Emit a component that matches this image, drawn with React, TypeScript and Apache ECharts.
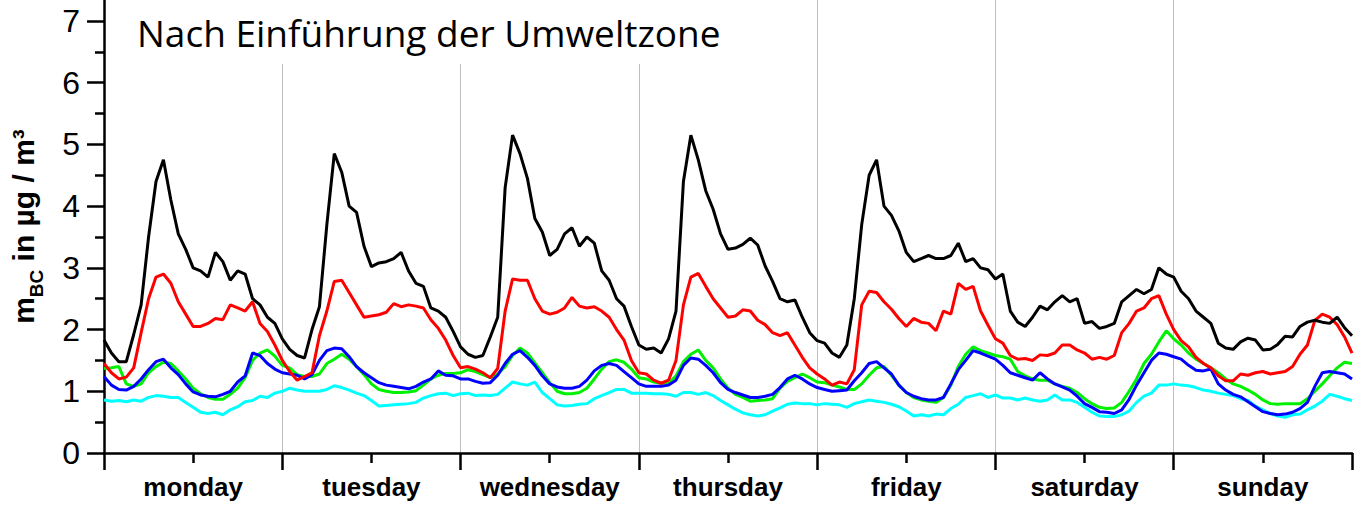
import React, { useEffect, useRef } from "react";
import * as echarts from "echarts";

const dayNames = ["monday", "tuesday", "wednesday", "thursday", "friday", "saturday", "sunday"];
const yTickValues = [0, 1, 2, 3, 4, 5, 6, 7];
const yMinorTickValues = [0.5, 1.5, 2.5, 3.5, 4.5, 5.5, 6.5];
const titleText = "Nach Einführung der Umweltzone";

// hourly values, one array per day (sunday includes the closing hour 168)
const blackMon = [1.83, 1.62, 1.48, 1.48, 1.92, 2.4, 3.5, 4.4, 4.75, 4.1, 3.55, 3.3, 3.0, 2.95, 2.85, 3.25, 3.1, 2.8, 2.95, 2.9, 2.5, 2.4, 2.2, 2.1];
const blackTue = [1.85, 1.68, 1.58, 1.54, 2.0, 2.37, 3.7, 4.85, 4.55, 4.0, 3.9, 3.35, 3.02, 3.08, 3.1, 3.15, 3.25, 2.95, 2.75, 2.7, 2.35, 2.3, 2.2, 1.97];
const blackWed = [1.72, 1.6, 1.55, 1.58, 1.88, 2.2, 4.3, 5.15, 4.85, 4.45, 3.8, 3.58, 3.2, 3.3, 3.55, 3.65, 3.35, 3.5, 3.4, 2.95, 2.8, 2.5, 2.38, 2.05];
const blackThu = [1.75, 1.68, 1.7, 1.62, 1.85, 2.3, 4.4, 5.15, 4.75, 4.25, 3.95, 3.55, 3.3, 3.32, 3.38, 3.48, 3.37, 3.03, 2.78, 2.5, 2.45, 2.48, 2.2, 1.95];
const blackFri = [1.82, 1.78, 1.62, 1.55, 1.75, 2.5, 3.7, 4.5, 4.75, 4.0, 3.85, 3.6, 3.25, 3.1, 3.15, 3.2, 3.15, 3.15, 3.2, 3.4, 3.1, 3.15, 3.0, 2.97];
const blackSat = [2.82, 2.9, 2.3, 2.12, 2.05, 2.2, 2.38, 2.32, 2.45, 2.55, 2.45, 2.5, 2.1, 2.13, 2.02, 2.05, 2.1, 2.45, 2.55, 2.65, 2.58, 2.65, 3.0, 2.9];
const blackSun = [2.85, 2.62, 2.5, 2.3, 2.2, 2.1, 1.78, 1.7, 1.68, 1.8, 1.86, 1.83, 1.67, 1.68, 1.76, 1.89, 1.88, 2.05, 2.12, 2.15, 2.12, 2.1, 2.2, 2.03, 1.9];

const redMon = [1.45, 1.3, 1.2, 1.23, 1.38, 1.95, 2.5, 2.85, 2.9, 2.75, 2.45, 2.25, 2.05, 2.05, 2.1, 2.18, 2.16, 2.4, 2.35, 2.3, 2.45, 2.1, 1.97, 1.75];
const redTue = [1.5, 1.32, 1.18, 1.24, 1.3, 1.9, 2.3, 2.78, 2.8, 2.6, 2.4, 2.2, 2.22, 2.24, 2.28, 2.42, 2.37, 2.4, 2.38, 2.35, 2.16, 2.02, 1.83, 1.58];
const redWed = [1.38, 1.4, 1.36, 1.3, 1.22, 1.37, 2.3, 2.82, 2.8, 2.8, 2.5, 2.3, 2.25, 2.28, 2.35, 2.52, 2.38, 2.35, 2.37, 2.3, 2.2, 2.0, 1.83, 1.5];
const redThu = [1.3, 1.28, 1.18, 1.13, 1.18, 1.5, 2.4, 2.85, 2.91, 2.7, 2.5, 2.35, 2.2, 2.22, 2.32, 2.3, 2.15, 2.08, 1.95, 1.9, 1.95, 1.75, 1.55, 1.38];
const redFri = [1.28, 1.2, 1.1, 1.15, 1.12, 1.35, 2.4, 2.62, 2.6, 2.45, 2.33, 2.18, 2.05, 2.18, 2.12, 2.1, 1.98, 2.3, 2.25, 2.75, 2.65, 2.7, 2.3, 2.07];
const redSat = [1.85, 1.78, 1.58, 1.52, 1.53, 1.5, 1.59, 1.58, 1.62, 1.75, 1.75, 1.67, 1.62, 1.52, 1.55, 1.52, 1.58, 1.95, 2.1, 2.3, 2.35, 2.5, 2.55, 2.25];
const redSun = [2.0, 1.82, 1.72, 1.55, 1.45, 1.38, 1.25, 1.17, 1.17, 1.28, 1.26, 1.3, 1.32, 1.28, 1.3, 1.32, 1.4, 1.6, 1.75, 2.15, 2.25, 2.2, 2.08, 1.88, 1.62];

const greenMon = [1.37, 1.38, 1.4, 1.12, 1.08, 1.12, 1.3, 1.4, 1.47, 1.45, 1.33, 1.2, 1.05, 0.96, 0.9, 0.87, 0.87, 0.95, 1.05, 1.22, 1.5, 1.62, 1.67, 1.57];
const greenTue = [1.42, 1.38, 1.27, 1.24, 1.24, 1.28, 1.45, 1.52, 1.6, 1.52, 1.4, 1.27, 1.12, 1.03, 1.0, 0.98, 0.98, 0.99, 1.01, 1.1, 1.2, 1.26, 1.29, 1.29];
const greenWed = [1.3, 1.35, 1.32, 1.27, 1.22, 1.28, 1.4, 1.58, 1.7, 1.62, 1.46, 1.3, 1.14, 1.0, 0.96, 0.96, 0.98, 1.05, 1.2, 1.36, 1.48, 1.51, 1.47, 1.36];
const greenThu = [1.22, 1.2, 1.15, 1.13, 1.13, 1.25, 1.48, 1.6, 1.67, 1.5, 1.38, 1.2, 1.05, 0.95, 0.9, 0.84, 0.85, 0.86, 0.88, 1.05, 1.16, 1.22, 1.28, 1.22];
const greenFri = [1.15, 1.14, 1.1, 1.07, 1.03, 1.03, 1.12, 1.26, 1.38, 1.4, 1.26, 1.1, 0.98, 0.9, 0.86, 0.84, 0.82, 0.9, 1.1, 1.4, 1.6, 1.72, 1.66, 1.62];
const greenSat = [1.58, 1.56, 1.52, 1.32, 1.25, 1.2, 1.18, 1.18, 1.12, 1.08, 1.05, 0.98, 0.88, 0.8, 0.74, 0.72, 0.73, 0.82, 1.0, 1.2, 1.45, 1.6, 1.8, 1.98];
const greenSun = [1.85, 1.75, 1.62, 1.52, 1.45, 1.38, 1.3, 1.2, 1.12, 1.08, 1.02, 0.95, 0.86, 0.8, 0.79, 0.8, 0.8, 0.8, 0.88, 1.0, 1.12, 1.25, 1.38, 1.47, 1.45];

const blueMon = [1.24, 1.1, 1.03, 1.02, 1.08, 1.2, 1.35, 1.48, 1.52, 1.38, 1.27, 1.12, 0.99, 0.94, 0.92, 0.91, 0.95, 1.0, 1.15, 1.25, 1.62, 1.58, 1.45, 1.36];
const blueTue = [1.3, 1.28, 1.26, 1.2, 1.27, 1.5, 1.66, 1.7, 1.69, 1.56, 1.4, 1.3, 1.22, 1.14, 1.1, 1.08, 1.06, 1.04, 1.08, 1.15, 1.2, 1.33, 1.26, 1.25];
const blueWed = [1.2, 1.2, 1.16, 1.13, 1.14, 1.26, 1.45, 1.6, 1.66, 1.55, 1.42, 1.25, 1.12, 1.07, 1.05, 1.05, 1.08, 1.18, 1.33, 1.42, 1.45, 1.42, 1.32, 1.22];
const blueThu = [1.12, 1.08, 1.08, 1.08, 1.1, 1.18, 1.42, 1.54, 1.52, 1.42, 1.3, 1.14, 1.03, 0.98, 0.94, 0.9, 0.9, 0.92, 0.95, 1.06, 1.2, 1.26, 1.2, 1.12];
const blueFri = [1.06, 1.03, 1.0, 1.01, 1.02, 1.17, 1.3, 1.45, 1.48, 1.38, 1.28, 1.1, 0.98, 0.92, 0.88, 0.86, 0.86, 0.9, 1.12, 1.35, 1.5, 1.66, 1.62, 1.57];
const blueSat = [1.52, 1.42, 1.3, 1.26, 1.22, 1.18, 1.3, 1.2, 1.12, 1.07, 1.02, 0.92, 0.8, 0.74, 0.67, 0.66, 0.64, 0.7, 0.87, 1.1, 1.3, 1.5, 1.62, 1.6];
const blueSun = [1.56, 1.52, 1.42, 1.34, 1.33, 1.36, 1.12, 1.02, 0.95, 0.91, 0.83, 0.75, 0.67, 0.64, 0.62, 0.63, 0.66, 0.72, 0.82, 1.08, 1.3, 1.32, 1.3, 1.28, 1.2];

const cyanMon = [0.86, 0.84, 0.85, 0.83, 0.86, 0.84, 0.9, 0.93, 0.92, 0.9, 0.9, 0.82, 0.74, 0.66, 0.64, 0.66, 0.62, 0.7, 0.75, 0.83, 0.85, 0.92, 0.9, 0.97];
const cyanTue = [1.0, 1.05, 1.02, 1.0, 1.0, 1.0, 1.03, 1.09, 1.06, 1.02, 0.97, 0.93, 0.85, 0.76, 0.77, 0.78, 0.79, 0.8, 0.82, 0.89, 0.93, 0.96, 0.97, 0.93];
const cyanWed = [0.96, 0.97, 0.93, 0.94, 0.93, 0.95, 1.05, 1.15, 1.12, 1.1, 1.15, 0.98, 0.88, 0.78, 0.76, 0.77, 0.79, 0.8, 0.88, 0.93, 0.98, 1.03, 1.03, 0.97];
const cyanThu = [0.97, 0.97, 0.96, 0.96, 0.95, 0.92, 0.98, 0.98, 0.95, 0.98, 0.93, 0.85, 0.78, 0.71, 0.65, 0.62, 0.6, 0.62, 0.68, 0.73, 0.79, 0.81, 0.8, 0.8];
const cyanFri = [0.78, 0.8, 0.79, 0.78, 0.74, 0.8, 0.83, 0.86, 0.84, 0.82, 0.79, 0.75, 0.68, 0.6, 0.62, 0.6, 0.63, 0.62, 0.72, 0.79, 0.9, 0.93, 0.96, 0.9];
const cyanSat = [0.94, 0.89, 0.89, 0.86, 0.89, 0.86, 0.84, 0.86, 0.94, 0.86, 0.86, 0.82, 0.74, 0.66, 0.6, 0.59, 0.59, 0.62, 0.68, 0.82, 0.92, 0.97, 1.1, 1.1];
const cyanSun = [1.12, 1.1, 1.09, 1.06, 1.02, 1.0, 0.97, 0.95, 0.93, 0.88, 0.85, 0.76, 0.7, 0.64, 0.6, 0.58, 0.62, 0.63, 0.7, 0.76, 0.84, 0.95, 0.92, 0.88, 0.85];

const black = [...blackMon, ...blackTue, ...blackWed, ...blackThu, ...blackFri, ...blackSat, ...blackSun];
const red = [...redMon, ...redTue, ...redWed, ...redThu, ...redFri, ...redSat, ...redSun];
const green = [...greenMon, ...greenTue, ...greenWed, ...greenThu, ...greenFri, ...greenSat, ...greenSun];
const blue = [...blueMon, ...blueTue, ...blueWed, ...blueThu, ...blueFri, ...blueSat, ...blueSun];
const cyan = [...cyanMon, ...cyanTue, ...cyanWed, ...cyanThu, ...cyanFri, ...cyanSat, ...cyanSun];

const seriesDefs = [
  { name: "cyan", color: "#00FFFF", values: cyan },
  { name: "green", color: "#00F000", values: green },
  { name: "blue", color: "#0000FF", values: blue },
  { name: "red", color: "#FF0000", values: red },
  { name: "black", color: "#000000", values: black },
];

export default function App() {
  const ref = useRef<HTMLDivElement>(null);
  useEffect(() => {
    if (!ref.current) return;
    const chart = echarts.init(ref.current, undefined, { renderer: "svg" });
    const axisColor = "#000";
    const option: any = {
      animation: false,
      backgroundColor: "#fff",
      grid: { left: 104, right: 3, top: 0, bottom: 52, containLabel: false, outerBoundsMode: "none" },
      graphic: [
        {
          type: "rect",
          z: 1,
          shape: { x: 107, y: 0, width: 650, height: 64 },
          style: { fill: "#fff" },
        },
        {
          type: "text",
          z: 3,
          x: 137,
          y: 32,
          style: {
            text: titleText,
            fontSize: 37,
            fontFamily: "'Open Sans', 'Noto Sans', sans-serif",
            fill: "#000",
            verticalAlign: "middle",
          },
        },
      ],
      xAxis: {
        type: "value",
        min: 0,
        max: 168,
        interval: 24,
        axisLine: { show: true, lineStyle: { color: axisColor, width: 2.5 } },
        axisTick: { show: true, length: 17, lineStyle: { color: axisColor, width: 2.5 } },
        minorTick: { show: true, splitNumber: 2, length: 10, lineStyle: { color: axisColor, width: 2.5 } },
        axisLabel: {
          customValues: dayNames.map((_, i) => i * 24 + 12),
          formatter: (v: number) => dayNames[Math.floor(v / 24)] ?? "",
          fontSize: 26,
          fontWeight: "bold",
          fontFamily: "'Liberation Sans', Arial, sans-serif",
          color: "#000",
          margin: 21,
        },
        splitLine: { show: true, showMinLine: false, showMaxLine: false, lineStyle: { color: "#c0c0c0", width: 1 } },
        minorSplitLine: { show: false },
      },
      yAxis: [
        {
          type: "value",
          min: 0,
          max: 7.34,
          position: "left",
          axisLine: { show: true, lineStyle: { color: axisColor, width: 2.5 } },
          axisTick: { show: true, customValues: yTickValues, length: 17, lineStyle: { color: axisColor, width: 2.5 } },
          axisLabel: {
            customValues: yTickValues,
            fontSize: 32,
            fontFamily: "'Liberation Sans', Arial, sans-serif",
            color: "#000",
            margin: 24,
          },
          splitLine: { show: false },
          name: "{m|m}{s|BC}{m| in µg / m³}",
          nameLocation: "middle",
          nameGap: 58,
          nameTextStyle: {
            rich: {
              m: {
                fontSize: 30,
                fontWeight: "bold",
                fontFamily: "'Liberation Sans', Arial, sans-serif",
                color: "#000",
                verticalAlign: "bottom",
                padding: [0, 0, 8, 0],
              },
              s: {
                fontSize: 19,
                fontWeight: "bold",
                fontFamily: "'Liberation Sans', Arial, sans-serif",
                color: "#000",
                verticalAlign: "bottom",
              },
            },
          },
        },
        {
          type: "value",
          min: 0,
          max: 7.34,
          position: "left",
          axisLine: { show: false },
          axisTick: { show: true, customValues: yMinorTickValues, length: 9, lineStyle: { color: axisColor, width: 2.5 } },
          axisLabel: { show: false },
          splitLine: { show: false },
        },
      ],
      series: seriesDefs.map((s) => ({
        name: s.name,
        type: "line",
        yAxisIndex: 0,
        showSymbol: false,
        symbol: "none",
        lineStyle: { color: s.color, width: 3 },
        itemStyle: { color: s.color },
        data: s.values.map((v, i) => [i, v]),
      })),
    };
    chart.setOption(option);
    return () => chart.dispose();
  }, []);
  return (
    <div
      ref={ref}
      style={{ position: "absolute", left: 0, top: 0, width: 1355, height: 505 }}
    />
  );
}
